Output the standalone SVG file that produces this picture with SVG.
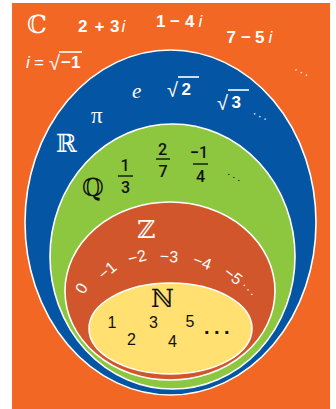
<svg xmlns="http://www.w3.org/2000/svg" width="336" height="409" viewBox="0 0 336 409">
  <style>
    .set { stroke: #ffffff; stroke-width: 1.6; }
    .dbl { font-family: "DejaVu Serif", "DejaVu Sans", serif; font-size: 25px; }
    .cx { font-family: "Liberation Sans", Arial, sans-serif; font-weight: bold; font-size: 17px; fill: #ffffff; }
    .it { font-style: italic; font-weight: normal; }
    .frac { font-family: Roboto, "Liberation Sans", sans-serif; font-weight: 500; font-size: 16px; fill: #111111; text-anchor: middle; }
    .ring { font-family: "Liberation Sans", Arial, sans-serif; font-size: 16px; fill: #ffffff; text-anchor: middle; }
    .nat { font-family: "Liberation Sans", Arial, sans-serif; font-size: 16px; fill: #111111; text-anchor: middle; }
    .dots { font-family: "Liberation Sans", Arial, sans-serif; font-size: 12px; text-anchor: middle; letter-spacing: 2.5px; }
    .bar { stroke-width: 1.4; }
  </style>
  <rect x="0" y="0" width="336" height="409" fill="#ffffff"/>

  <g id="set-C">
    <rect x="12" y="3" width="318" height="406" fill="#F26724"/>
    <text class="dbl" x="27" y="33" fill="#ffffff">ℂ</text>
    <text class="cx"><tspan x="78" y="32">2</tspan><tspan x="94.5" y="32">+</tspan><tspan x="110" y="32">3</tspan><tspan x="121.5" y="32" class="it">i</tspan></text>
    <text class="cx"><tspan x="156" y="27">1</tspan><tspan x="170" y="27">−</tspan><tspan x="185" y="27">4</tspan><tspan x="198.5" y="27" class="it">i</tspan></text>
    <text class="cx"><tspan x="226.5" y="43">7</tspan><tspan x="241" y="43">−</tspan><tspan x="255" y="43">5</tspan><tspan x="268.5" y="43" class="it">i</tspan></text>
    <text class="cx"><tspan x="26" y="68" class="it">i</tspan><tspan x="34" y="68" font-weight="normal">=</tspan><tspan x="49" y="70" font-weight="normal" font-size="20">√</tspan><tspan x="61" y="68">−1</tspan></text>
    <line x1="59" y1="52" x2="82" y2="52" stroke="#ffffff" stroke-width="1.6"/>
    <text class="dots" fill="#ffffff" font-size="10" transform="translate(303,72) rotate(27)" x="0" y="2">...</text>
  </g>

  <g id="set-R">
    <ellipse class="set" cx="170.5" cy="222.5" rx="145.5" ry="172.5" fill="#0455A4"/>
    <text class="dbl" x="56" y="152" fill="#ffffff">ℝ</text>
    <text x="91" y="123" font-family="Liberation Serif, serif" font-size="23" fill="#ffffff">π</text>
    <text x="132" y="98" font-family="Liberation Serif, serif" font-style="italic" font-size="21" fill="#ffffff">e</text>
    <text class="cx"><tspan x="167" y="97" font-weight="normal" font-size="20">√</tspan><tspan x="181.5" y="95">2</tspan></text>
    <line x1="178" y1="77" x2="199" y2="77" stroke="#ffffff" stroke-width="1.6"/>
    <text class="cx"><tspan x="217" y="110" font-weight="normal" font-size="20">√</tspan><tspan x="231.5" y="108">3</tspan></text>
    <line x1="228" y1="90" x2="249" y2="90" stroke="#ffffff" stroke-width="1.6"/>
    <text class="dots" fill="#ffffff" transform="translate(261.5,116) rotate(27)" x="0" y="2">...</text>
  </g>

  <g id="set-Q">
    <ellipse class="set" cx="172.5" cy="256.5" rx="122.5" ry="132.5" fill="#8DC63F"/>
    <text class="dbl" x="82" y="196" fill="#111111">ℚ</text>
    <text class="frac" x="125" y="171">1</text>
    <line class="bar" x1="118" y1="176" x2="133" y2="176" stroke="#111111"/>
    <text class="frac" x="125.5" y="193">3</text>
    <text class="frac" x="162.5" y="155">2</text>
    <line class="bar" x1="156" y1="159" x2="170" y2="159" stroke="#111111"/>
    <text class="frac" x="163" y="177">7</text>
    <text class="frac" x="199" y="158"><tspan font-weight="bold">−</tspan>1</text>
    <line class="bar" x1="193" y1="164" x2="208" y2="164" stroke="#111111"/>
    <text class="frac" x="200.5" y="182">4</text>
    <text class="dots" fill="#111111" transform="translate(235.5,177) rotate(30)" x="0" y="2">...</text>
  </g>

  <g id="set-Z">
    <ellipse class="set" cx="170" cy="291" rx="105" ry="89" fill="#D2562C"/>
    <text class="dbl" x="137" y="238" fill="#ffffff">ℤ</text>
    <text class="ring" transform="translate(81,288) rotate(-58)" x="0" y="6">0</text>
    <text class="ring" transform="translate(107,270) rotate(-40)" x="0" y="6">−1</text>
    <text class="ring" transform="translate(137,256.5) rotate(-14)" x="0" y="6">−2</text>
    <text class="ring" transform="translate(169,256) rotate(3)" x="0" y="6">−3</text>
    <text class="ring" transform="translate(202.5,261.5) rotate(20)" x="0" y="6">−4</text>
    <text class="ring" transform="translate(233.5,275.5) rotate(38)" x="0" y="6">−5</text>
    <text class="dots" fill="#ffffff" font-size="15" transform="translate(250,290) rotate(50)" x="0" y="2">...</text>
  </g>

  <g id="set-N">
    <ellipse class="set" cx="170.5" cy="328.5" rx="81.5" ry="45.5" fill="#FFE070"/>
    <text class="dbl" x="151" y="307" fill="#111111">ℕ</text>
    <text class="nat" x="112" y="328">1</text>
    <text class="nat" x="131.5" y="345">2</text>
    <text class="nat" x="153.5" y="328">3</text>
    <text class="nat" x="172.5" y="347">4</text>
    <text class="nat" x="190" y="327">5</text>
    <text x="204" y="334" font-family="Liberation Sans, Arial, sans-serif" font-weight="bold" font-size="20" letter-spacing="4.5" fill="#111111">...</text>
  </g>
</svg>
